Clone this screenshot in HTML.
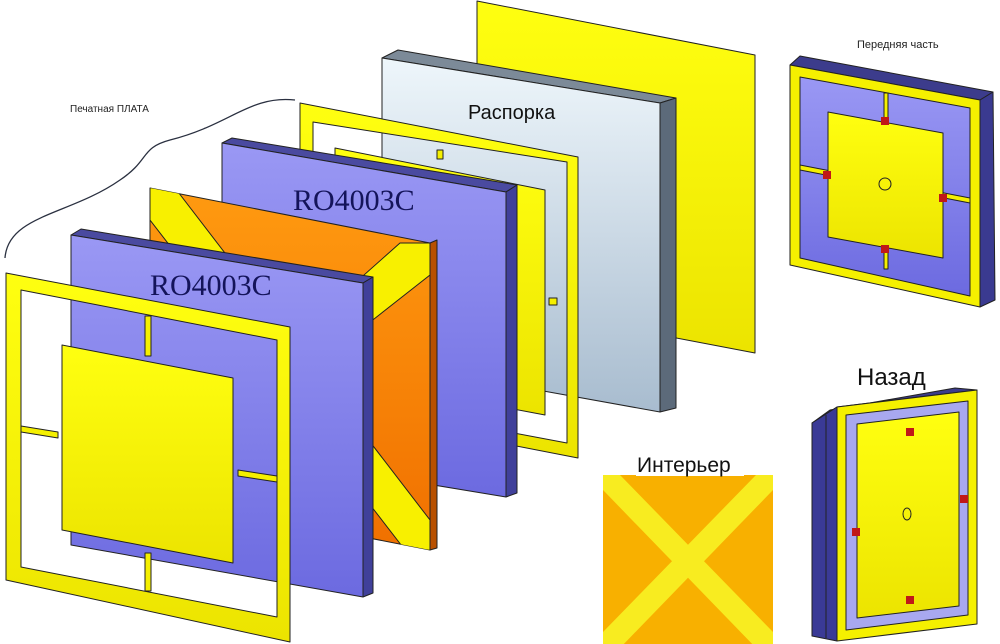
<!DOCTYPE html>
<html><head><meta charset="utf-8"><style>
html,body{margin:0;padding:0;background:#fff;}
svg{display:block}
text{font-family:"Liberation Sans",sans-serif;}
</style></head><body>
<svg width="1000" height="644" viewBox="0 0 1000 644" xmlns="http://www.w3.org/2000/svg">
<defs>
<linearGradient id="yl" x1="0" y1="0" x2="0" y2="1"><stop offset="0" stop-color="#ffff10"/><stop offset="1" stop-color="#ece400"/></linearGradient>
<linearGradient id="bl" x1="0" y1="0" x2="0" y2="1"><stop offset="0" stop-color="#9a98f4"/><stop offset="1" stop-color="#6c6ae0"/></linearGradient>
<linearGradient id="or" x1="0" y1="0" x2="0" y2="1"><stop offset="0" stop-color="#ff9a10"/><stop offset="1" stop-color="#f07000"/></linearGradient>
<linearGradient id="gr" x1="0" y1="0" x2="0" y2="1"><stop offset="0" stop-color="#eef6fb"/><stop offset="1" stop-color="#a8bccf"/></linearGradient>
<clipPath id="orc"><polygon points="150,188 430,243 430,550 150,495"/></clipPath>
<clipPath id="intc"><rect x="603" y="475" width="170" height="169"/></clipPath>
</defs>
<g stroke="#222" stroke-width="1" stroke-linejoin="round">
<!-- back yellow sheet -->
<polygon points="477,1 755,55 755,353 477,300" fill="url(#yl)"/>
<!-- spacer -->
<polygon points="382,58 398,50 676,98 660,103" fill="#7c8a98"/>
<polygon points="660,103 676,98 676,408 660,412" fill="#5c6a7a"/>
<polygon points="382,58 660,103 660,412 382,362" fill="url(#gr)"/>
<!-- inner yellow patch behind -->
<polygon points="335,148 545,190 545,415 335,375" fill="url(#yl)"/>
<!-- second yellow frame -->
<path fill-rule="evenodd" d="M300,103 L578,157 L578,458 L300,404 Z M313,122 L567,162 L567,443 L313,395 Z" fill="url(#yl)"/>
<rect x="437" y="150" width="6" height="9" fill="#f5f000"/>
<rect x="549" y="298" width="8" height="7" fill="#f5f000"/>
<!-- back blue board -->
<polygon points="222,143 232,138 517,185 506,192" fill="#4a4aa0"/>
<polygon points="506,192 517,185 517,493 506,497" fill="#40409a"/>
<polygon points="222,143 506,192 506,497 222,450" fill="url(#bl)"/>
<!-- orange with X -->
<polygon points="430,243 437,240 437,548 430,550" fill="#b85000"/>
<polygon points="150,188 430,243 430,550 150,495" fill="url(#or)"/>
<g clip-path="url(#orc)">
<polygon points="150,188 175,188 430,520 430,550 405,550 150,220" fill="#f8f000"/>
<polygon points="430,243 430,275 150,495 150,465 400,243" fill="#f8f000"/>
</g>
<!-- front blue board -->
<polygon points="71,235 81,229 373,277 363,283" fill="#4a4aa0"/>
<polygon points="363,283 373,277 373,593 363,597" fill="#40409a"/>
<polygon points="71,235 363,283 363,597 71,545" fill="url(#bl)"/>
</g>
<text x="293" y="210" font-family="Liberation Serif,serif" font-size="30" fill="#14145a" style="font-family:'Liberation Serif',serif">RO4003C</text>
<text x="150" y="295" font-family="Liberation Serif,serif" font-size="30" fill="#14145a" style="font-family:'Liberation Serif',serif">RO4003C</text>
<g stroke="#222" stroke-width="1" stroke-linejoin="round">
<!-- front patch -->
<polygon points="62,345 233,378 233,563 62,530" fill="url(#yl)"/>
<!-- front frame -->
<path fill-rule="evenodd" d="M6,273 L290,327 L290,642 L6,580 Z M21,290 L277,340 L277,617 L21,567 Z" fill="url(#yl)"/>
<rect x="145" y="316" width="6" height="40" fill="#f5f000"/>
<rect x="145" y="553" width="6" height="38" fill="#f5f000"/>
<polygon points="21,426 58,432 58,438 21,432" fill="#f5f000"/>
<polygon points="238,470 277,476 277,482 238,476" fill="#f5f000"/>
</g>
<!-- brace -->
<path d="M5,258 C8,215 70,215 120,180 C150,160 140,148 170,140 C230,125 250,95 295,100" fill="none" stroke="#2a3040" stroke-width="1.3"/>
<text x="70" y="112" font-size="10" fill="#222">Печатная ПЛАТА</text>
<text x="468" y="119" font-size="20" fill="#111">Распорка</text>
<!-- top right assembly -->
<text x="857" y="48" font-size="11" fill="#222">Передняя часть</text>
<g stroke="#222" stroke-width="1" stroke-linejoin="round">
<polygon points="790,65 800,56 993,92 980,100" fill="#3c3c8c"/>
<polygon points="980,100 993,92 995,300 980,307" fill="#3a3a90"/>
<polygon points="790,65 980,100 980,307 790,265" fill="#f5f000"/>
<polygon points="800,77 970,108 970,296 800,258" fill="url(#bl)"/>
<rect x="884" y="93" width="4" height="176" fill="#f5f000"/>
<polygon points="800,165 970,198 970,203 800,170" fill="#f5f000"/>
<polygon points="828,112 943,133 943,258 828,237" fill="url(#yl)"/>
<circle cx="885" cy="184" r="6" fill="none"/>
</g>
<g fill="#c01818">
<rect x="881" y="117" width="8" height="8"/><rect x="823" y="171" width="8" height="8"/>
<rect x="939" y="194" width="8" height="8"/><rect x="881" y="245" width="8" height="8"/>
</g>
<!-- Interior -->
<g clip-path="url(#intc)">
<rect x="603" y="475" width="170" height="169" fill="#f8b000"/>
<polygon points="603,475 620,475 773,632 773,650 758,650 603,490" fill="#f8ec20"/>
<polygon points="773,475 756,475 603,632 603,650 618,650 773,490" fill="#f8ec20"/>
</g>
<rect x="636" y="448" width="108" height="28" fill="#fff"/>
<text x="637" y="472" font-size="21" fill="#111">Интерьер</text>
<!-- back assembly -->
<g stroke="#222" stroke-width="1" stroke-linejoin="round">
<polygon points="812,423 837,407 977,390 955,388 830,410" fill="#3c3c8c"/>
<polygon points="812,423 837,407 837,641 812,636" fill="#3a3a96"/>
<line x1="826" y1="415" x2="826" y2="638"/>
<polygon points="837,407 977,390 977,624 837,641" fill="#f5f000"/>
<polygon points="846,415 968,401 968,615 846,630" fill="#a8a8f0"/>
<polygon points="857,424 959,412 959,606 857,618" fill="url(#yl)"/>
<ellipse cx="907" cy="514" rx="4" ry="6" fill="none"/>
</g>
<g fill="#c01818">
<rect x="906" y="428" width="8" height="8"/><rect x="960" y="495" width="8" height="8"/>
<rect x="852" y="528" width="8" height="8"/><rect x="906" y="596" width="8" height="8"/>
</g>
<rect x="850" y="358" width="90" height="28" fill="#fff"/>
<text x="857" y="385" font-size="24" fill="#111">Назад</text>
</svg>
</body></html>
